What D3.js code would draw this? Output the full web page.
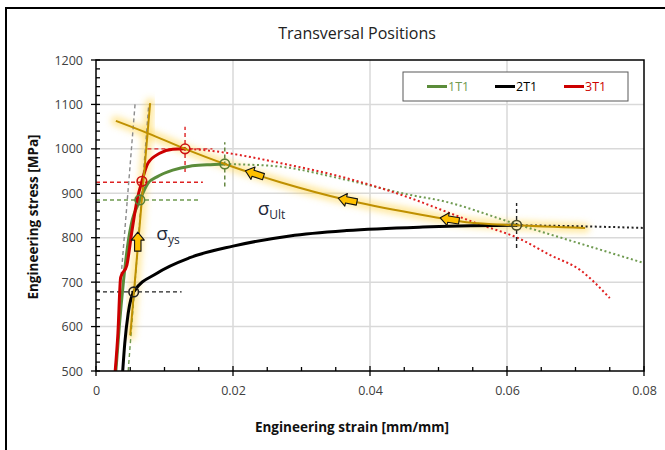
<!DOCTYPE html>
<html>
<head>
<meta charset="utf-8">
<script src="https://cdn.jsdelivr.net/npm/d3@7"></script>
<style>
  body { margin: 0; background: #fff; }
  text { font-family: "Open Sans", sans-serif; }
</style>
</head>
<body>
<svg id="chart" width="665" height="450"></svg>
<script>
// series 1T1 (solid part, then dotted continuation)
const strain1 = [0.0029, 0.0034, 0.0040, 0.0046, 0.0053, 0.0060, 0.0064, 0.0076, 0.0089, 0.0112, 0.0137, 0.0162, 0.0188];
const stress1 = [500, 600, 700, 780, 840, 870, 885, 923, 937, 952, 961, 964, 966];
const strain1Dot = [0.0188, 0.0210, 0.0269, 0.0366, 0.0463, 0.0502, 0.0615, 0.0700, 0.0800];
const stress1Dot = [966, 965, 960, 930, 895, 884, 830, 790, 743];

// series 2T1
const strain2 = [0.0039, 0.0042, 0.0047, 0.0055, 0.0089, 0.0137, 0.0200, 0.0283, 0.0366, 0.0477, 0.0614];
const stress2 = [500, 562, 630, 678, 720, 755, 781, 804, 816, 824, 828];
const strain2Dot = [0.0614, 0.0700, 0.0800];
const stress2Dot = [828, 826, 822];

// series 3T1
const strain3 = [0.0028, 0.0032, 0.0036, 0.0045, 0.0052, 0.0060, 0.0067, 0.0076, 0.0093, 0.0112, 0.0130];
const stress3 = [500, 585, 711, 738, 810, 885, 927, 968, 990, 999, 1000];
const strain3Dot = [0.0130, 0.0152, 0.0177, 0.0210, 0.0269, 0.0366, 0.0463, 0.0502, 0.0560, 0.0615, 0.0663, 0.0707, 0.0750];
const stress3Dot = [1000, 998, 994, 986, 968, 934, 887, 864, 830, 800, 761, 727, 664];

// highlighted trend lines
const goldStrain = [0.0029, 0.0076, 0.0130, 0.0188, 0.0269, 0.0366, 0.0463, 0.0541, 0.0614, 0.0714];
const goldStress = [1063, 1035, 1000, 966, 925, 885, 855, 835, 828, 822];
const yieldLineStrain = [0.0050, 0.0079];
const yieldLineStress = [580, 1103];
const arrowStrain = [0.0232, 0.0368, 0.0517];
const upArrow = [0.0061, 790];

// yield / ultimate markers
const markerStrain = [0.0064, 0.0188, 0.0067, 0.0130, 0.0055, 0.0614];
const markerStress = [885, 966, 927, 1000, 678, 828];
const markerColor = ["#5b7f35", "#5b7f35", "#cc1111", "#cc1111", "#222", "#4a4a2a"];

// dashed guide lines [x1, y1, x2, y2, colour]
const guides = [
  [0.0057, 1100, 0.0037, 720, "#8c8c8c"],
  [0.0047, 500, 0.0066, 880, "#6f9a50"],
  [0.0066, 880, 0.0077, 1100, "#8c8c8c"],
  [0, 925, 0.0156, 925, "#dd2222"],
  [0.0075, 1000, 0.0170, 1000, "#dd2222"],
  [0.0130, 948, 0.0130, 1050, "#dd2222"],
  [0, 885, 0.0152, 885, "#6f9a50"],
  [0.0188, 915, 0.0188, 1015, "#5b7f35"],
  [0, 678, 0.0125, 678, "#222"],
  [0.0614, 777, 0.0614, 878, "#222"]
];

const seriesNames = ["1T1", "2T1", "3T1"];
const seriesColors = ["#5b8c3a", "#000000", "#cc0000"];

const xTicks = [0, 0.02, 0.04, 0.06, 0.08];
const yTicks = [500, 600, 700, 800, 900, 1000, 1100, 1200];

const svg = d3.select("#chart");
const x = d3.scaleLinear().domain([0, 0.08]).range([96, 644]);
const y = d3.scaleLinear().domain([500, 1200]).range([371, 60]);

const defs = svg.append("defs");
defs.append("filter").attr("id", "glow")
  .attr("x", "-20%").attr("y", "-20%").attr("width", "140%").attr("height", "140%")
  .append("feGaussianBlur").attr("stdDeviation", 3);
defs.append("clipPath").attr("id", "plotClip")
  .append("rect").attr("x", 96).attr("y", 60).attr("width", 548).attr("height", 311);

// outer frame
svg.append("rect").attr("x", 6).attr("y", 8).attr("width", 720).attr("height", 500)
  .attr("fill", "none").attr("stroke", "#000").attr("stroke-width", 2);

svg.append("text").attr("x", 357).attr("y", 39).attr("text-anchor", "middle")
  .attr("font-size", 16).attr("fill", "#222").text("Transversal Positions");

// grid
svg.append("g").selectAll("line").data(xTicks.slice(1, -1)).join("line")
  .attr("x1", d => x(d)).attr("x2", d => x(d)).attr("y1", 60).attr("y2", 371)
  .attr("stroke", "#d9d9d9").attr("stroke-width", 1.5);
svg.append("g").selectAll("line").data(yTicks.slice(1, -1)).join("line")
  .attr("x1", 96).attr("x2", 644).attr("y1", d => y(d)).attr("y2", d => y(d))
  .attr("stroke", "#d9d9d9").attr("stroke-width", 1.5);

const smooth = d3.line().x(d => x(d[0])).y(d => y(d[1])).curve(d3.curveCatmullRom.alpha(0.5));
const mono = d3.line().x(d => x(d[0])).y(d => y(d[1])).curve(d3.curveMonotoneX);
const zip = (a, b) => a.map((v, i) => [v, b[i]]);

const plot = svg.append("g").attr("clip-path", "url(#plotClip)");

// glow under highlighted lines
const goldPts = zip(goldStrain, goldStress);
const yieldPts = zip(yieldLineStrain, yieldLineStress);
[goldPts, yieldPts].forEach(p => {
  plot.append("path").attr("d", smooth(p)).attr("fill", "none")
    .attr("stroke", "#ffd54a").attr("stroke-opacity", 0.5).attr("stroke-width", 10)
    .attr("stroke-linecap", "round").attr("filter", "url(#glow)");
});

// dotted continuations
[[strain1Dot, stress1Dot, 0], [strain3Dot, stress3Dot, 2], [strain2Dot, stress2Dot, 1]].forEach(([sx, sy, i]) => {
  plot.append("path").attr("d", mono(zip(sx, sy))).attr("fill", "none")
    .attr("stroke", i === 0 ? "#6f9a50" : (i === 2 ? "#e02020" : "#222"))
    .attr("stroke-width", 2).attr("stroke-dasharray", "2,2.6");
});

// dashed guides
plot.append("g").selectAll("line").data(guides).join("line")
  .attr("x1", d => x(d[0])).attr("y1", d => y(d[1]))
  .attr("x2", d => x(d[2])).attr("y2", d => y(d[3]))
  .attr("stroke", d => d[4]).attr("stroke-width", 1.4).attr("stroke-dasharray", "4,3");

// main curves
[[strain2, stress2, 1], [strain1, stress1, 0], [strain3, stress3, 2]].forEach(([sx, sy, i]) => {
  plot.append("path").attr("d", mono(zip(sx, sy))).attr("fill", "none")
    .attr("stroke", seriesColors[i]).attr("stroke-width", 3)
    .attr("stroke-linejoin", "round");
});

// gold lines
[goldPts, yieldPts].forEach(p => {
  plot.append("path").attr("d", smooth(p)).attr("fill", "none")
    .attr("stroke", "#bf9000").attr("stroke-width", 2);
});

// markers
plot.append("g").selectAll("circle").data(markerStrain).join("circle")
  .attr("cx", d => x(d)).attr("cy", (d, i) => y(markerStress[i])).attr("r", 4.8)
  .attr("fill", "none").attr("stroke", (d, i) => markerColor[i]).attr("stroke-width", 1.6);

// block arrows (pointing left at rotation 0)
const arrowPath = "M-10,0 L-2,-6.5 L-2,-3.2 L9,-3.2 L9,3.2 L-2,3.2 L-2,6.5 Z";
const goldPx = goldPts.map(p => [x(p[0]), y(p[1])]);
function goldAt(px) {
  for (let i = 0; i < goldPx.length - 1; i++) {
    const a = goldPx[i], b = goldPx[i + 1];
    if (px >= a[0] && px <= b[0]) {
      const t = (px - a[0]) / (b[0] - a[0]);
      return { y: a[1] + t * (b[1] - a[1]), ang: Math.atan2(b[1] - a[1], b[0] - a[0]) * 180 / Math.PI };
    }
  }
}
svg.append("g").selectAll("path").data(arrowStrain).join("path")
  .attr("d", arrowPath)
  .attr("transform", d => { const g = goldAt(x(d)); return `translate(${x(d)},${g.y}) rotate(${g.ang})`; })
  .attr("fill", "#ffc000").attr("stroke", "#111").attr("stroke-width", 1.1).attr("stroke-linejoin", "round");
svg.append("path").attr("d", arrowPath)
  .attr("transform", `translate(${x(upArrow[0])},${y(upArrow[1])}) rotate(90)`)
  .attr("fill", "#ffc000").attr("stroke", "#111").attr("stroke-width", 1.1).attr("stroke-linejoin", "round");

// sigma labels
const ys = svg.append("text").attr("x", x(0.0088)).attr("y", y(795)).attr("fill", "#1f2a3a").attr("font-size", 19);
ys.append("tspan").text("σ");
ys.append("tspan").attr("font-size", 12).attr("dy", 4).text("ys");
const ult = svg.append("text").attr("x", x(0.0236)).attr("y", y(851)).attr("fill", "#1f2a3a").attr("font-size", 19);
ult.append("tspan").text("σ");
ult.append("tspan").attr("font-size", 12).attr("dy", 4).text("Ult");

// plot border
svg.append("rect").attr("x", 96).attr("y", 60).attr("width", 548).attr("height", 311)
  .attr("fill", "none").attr("stroke", "#000").attr("stroke-width", 1.5);

// axes
const xAxis = svg.append("g").attr("transform", "translate(0,371)")
  .call(d3.axisBottom(x).tickValues(xTicks).tickSize(0).tickPadding(15).tickFormat(d => String(+d.toFixed(2))));
const yAxis = svg.append("g").attr("transform", "translate(96,0)")
  .call(d3.axisLeft(y).tickValues(yTicks).tickSize(0).tickPadding(13).tickFormat(d3.format("d")));
[xAxis, yAxis].forEach(a => {
  a.select(".domain").remove();
  a.selectAll("text").attr("font-size", 12.5).attr("fill", "#404040").attr("font-family", "Open Sans, sans-serif");
});

// tick marks: majors cross the axis, minors inside
const xMinor = d3.range(0, 0.0801, 0.005);
svg.append("g").selectAll("line").data(xMinor).join("line")
  .attr("x1", d => x(d)).attr("x2", d => x(d))
  .attr("y1", (d, i) => i % 4 === 0 ? 366 : 367).attr("y2", (d, i) => i % 4 === 0 ? 376 : 371)
  .attr("stroke", "#000").attr("stroke-width", 1.3);
const yMinor = d3.range(500, 1201, 20);
svg.append("g").selectAll("line").data(yMinor).join("line")
  .attr("y1", d => y(d)).attr("y2", d => y(d))
  .attr("x1", (d, i) => i % 5 === 0 ? 91 : 96).attr("x2", 100)
  .attr("stroke", "#000").attr("stroke-width", 1.3);

// axis titles
svg.append("text").attr("x", 352).attr("y", 432).attr("text-anchor", "middle")
  .attr("font-size", 13.5).attr("font-weight", "bold").attr("fill", "#111").text("Engineering strain [mm/mm]");
svg.append("text").attr("transform", "translate(38,217) rotate(-90)").attr("text-anchor", "middle")
  .attr("font-size", 13.5).attr("font-weight", "bold").attr("fill", "#111").text("Engineering stress [MPa]");

// legend
const lg = svg.append("g");
lg.append("rect").attr("x", 403).attr("y", 72).attr("width", 225).attr("height", 29)
  .attr("fill", "#fff").attr("stroke", "#595959").attr("stroke-width", 1);
const legX = [427, 495, 564];
seriesNames.forEach((n, i) => {
  lg.append("line").attr("x1", legX[i]).attr("x2", legX[i] + 20).attr("y1", 86.5).attr("y2", 86.5)
    .attr("stroke", seriesColors[i]).attr("stroke-width", 3);
  lg.append("text").attr("x", legX[i] + 21).attr("y", 91).attr("font-size", 12.5)
    .attr("fill", i === 0 ? "#6f9a50" : seriesColors[i]).text(n);
});
</script>
</body>
</html>
